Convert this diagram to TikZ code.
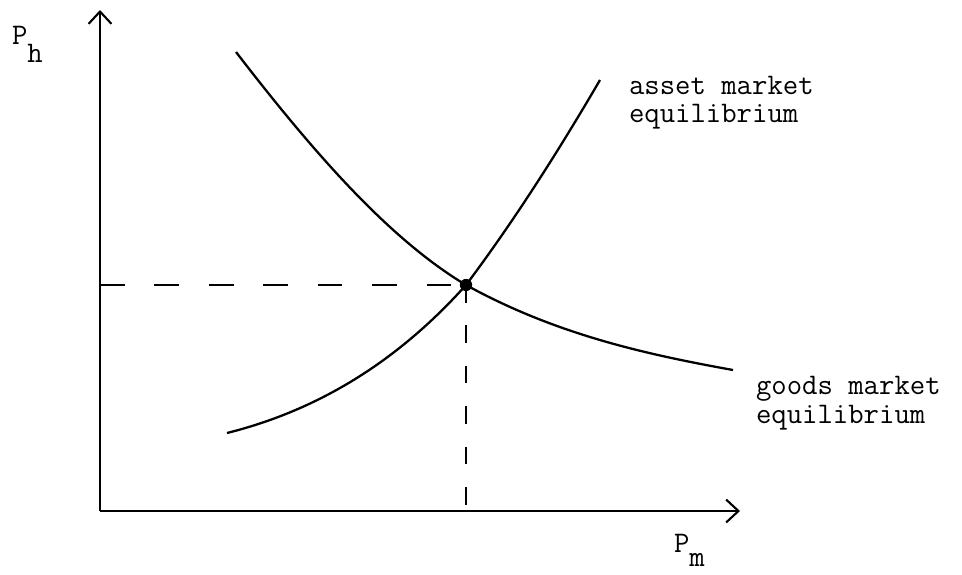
\documentclass[tikz,border=0pt]{standalone}
\usetikzlibrary{arrows.meta}

\begin{document}
\begin{tikzpicture}[x=0.02cm, y=-0.02cm, line width=1.2pt,
    every node/.style={font=\ttfamily\fontsize{17}{16.5}\selectfont, inner sep=0pt},
    axis/.style={-{Straight Barb[length=7pt, width=13pt, line width=1.2pt]}},
    guide/.style={dash pattern=on 14pt off 17pt},
    drop/.style={dash pattern=on 10pt off 13pt},
    curve/.style={line width=1.3pt}]
    \useasboundingbox (0,0) rectangle (962,574);
    % Axes
    \coordinate (O) at (100,511);
    \coordinate (ytop) at (100,10);
    \coordinate (xend) at (740,511);
    \draw[axis] (O) -- (ytop);
    \draw[axis] (O) -- (xend);
    \node[anchor=base west] (ph) at (11,45) {P\raisebox{-10pt}{h}};
    \node[anchor=base west] (pm) at (673,552) {P\raisebox{-8.5pt}{m}};

    % Equilibrium point
    \node[circle, fill, minimum size=7pt] (E) at (466,285) {};

    % Goods market curve
    \coordinate (g0) at (236,52);
    \coordinate (g1) at (733,370);
    \draw[curve] (g0) .. controls (313,152) and (389,239) .. (E.center)
                      .. controls (555,334) and (644,354) .. (g1);
    % Asset market curve
    \coordinate (a0) at (227,433);
    \coordinate (a1) at (600,80);
    \draw[curve] (a0) .. controls (307,413) and (390,370) .. (E.center)
                      .. controls (511,225) and (555,157) .. (a1);

    % Dashed guides
    \draw[guide] (O |- E) -- (E.center);
    \draw[drop] (E.center) -- (E |- O);

    \node[anchor=base west, align=left] (asset) at (628,123) {asset market\\equilibrium};
    \node[anchor=base west, align=left] (goods) at (755,423) {goods market\\equilibrium};
\end{tikzpicture}
\end{document}
